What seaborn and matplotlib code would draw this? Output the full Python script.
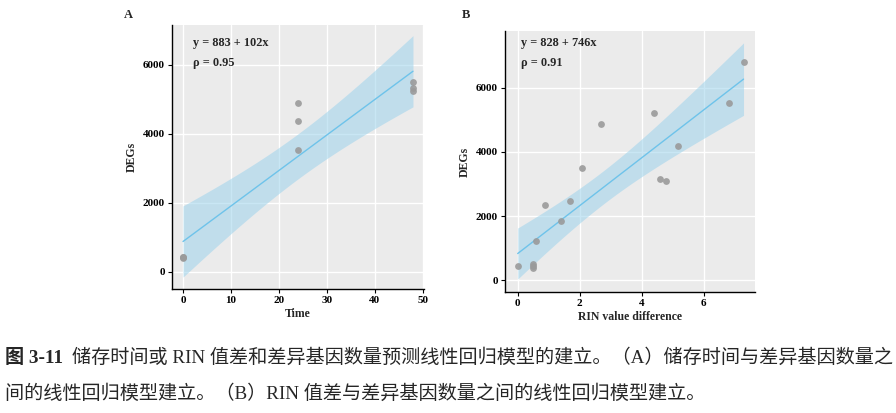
import numpy as np
import pandas as pd
import seaborn as sns
import matplotlib.pyplot as plt

# Panel A: storage time vs DEGs
time_h = [0, 0, 0, 24, 24, 24, 48, 48, 48]
degs_a = [390, 420, 440, 3530, 4360, 4900, 5230, 5320, 5500]

# Panel B: RIN value difference vs DEGs
rin_diff = [0, 0.48, 0.48, 0.48, 0.58, 0.88, 1.39, 1.69, 2.09, 2.69,
            4.40, 4.59, 4.80, 5.19, 6.81, 7.29]
degs_b = [436, 520, 450, 384, 1226, 2358, 1850, 2462, 3512, 4883,
          5216, 3148, 3086, 4187, 5527, 6795]

eq_a = ["y = 883 + 102x", "ρ = 0.95"]
eq_b = ["y = 828 + 746x", "ρ = 0.91"]

caption_head = "图 3-11"
caption1 = "储存时间或 RIN 值差和差异基因数量预测线性回归模型的建立。（A）储存时间与差异基因数量之"
caption2 = "间的线性回归模型建立。（B）RIN 值差与差异基因数量之间的线性回归模型建立。"

# t quantile (0.975) for n-2 degrees of freedom, like geom_smooth(method="lm")
t975 = {7: 2.365, 14: 2.145}

df_a = pd.DataFrame({"Time": time_h, "DEGs": degs_a})
df_b = pd.DataFrame({"RIN value difference": rin_diff, "DEGs": degs_b})

sns.set_theme(style="darkgrid", rc={
    "axes.facecolor": "#EBEBEB",
    "grid.color": "white",
    "grid.linewidth": 1.0,
    "axes.edgecolor": "black",
    "xtick.bottom": True,
    "ytick.left": True,
    "xtick.major.size": 3,
    "ytick.major.size": 3,
    "xtick.major.width": 0.8,
    "ytick.major.width": 0.8,
})
plt.rcParams["font.family"] = ["Liberation Serif", "Noto Sans CJK SC"]
plt.rcParams["font.weight"] = "bold"

fig = plt.figure(figsize=(8.96, 4.13), dpi=100)
W, H = 896, 413

def box(l, t, r, b):
    return [l / W, 1 - b / H, (r - l) / W, (b - t) / H]

ax_a = fig.add_axes(box(172, 25, 424, 289))
ax_b = fig.add_axes(box(505, 31, 755, 292))

panels = [
    (ax_a, df_a, "Time", eq_a, (-2.3, 50.3), (-500, 7150), [0, 10, 20, 30, 40, 50], 193),
    (ax_b, df_b, "RIN value difference", eq_b, (-0.41, 7.66), (-364, 7770), [0, 2, 4, 6], 521),
]

for ax, df, xcol, eq, xlim, ylim, xticks, tx in panels:
    x = df[xcol].to_numpy(float)
    y = df["DEGs"].to_numpy(float)
    n = len(x)
    b1, b0 = np.polyfit(x, y, 1)
    resid = y - (b0 + b1 * x)
    s = np.sqrt((resid ** 2).sum() / (n - 2))
    grid = np.linspace(x.min(), x.max(), 100)
    se = s * np.sqrt(1 / n + (grid - x.mean()) ** 2 / ((x - x.mean()) ** 2).sum())
    fit = b0 + b1 * grid
    ax.fill_between(grid, fit - t975[n - 2] * se, fit + t975[n - 2] * se,
                    color="#9DD3EC", alpha=0.55, linewidth=0, zorder=1)
    sns.regplot(data=df, x=xcol, y="DEGs", ax=ax, ci=None,
                scatter_kws=dict(color="#9A9A9A", s=24, alpha=0.9, linewidths=0, zorder=3),
                line_kws=dict(color="#6EC3EA", linewidth=1.0, zorder=2))
    ax.set_xlim(*xlim)
    ax.set_ylim(*ylim)
    ax.set_xticks(xticks)
    ax.set_yticks([0, 2000, 4000, 6000])
    ax.grid(True, which="major")
    for sp in ["top", "right"]:
        ax.spines[sp].set_visible(False)
    for sp in ["left", "bottom"]:
        ax.spines[sp].set_color("black")
        ax.spines[sp].set_linewidth(1.0)
    ax.tick_params(axis="both", labelsize=8, pad=2, colors="black", length=3)
    ax.set_xlabel(xcol, fontsize=8.5, fontweight="bold", labelpad=2)
    ax.set_ylabel("DEGs", fontsize=8.5, fontweight="bold", labelpad=4)
    fig.text(tx / W, 1 - 43 / H, eq[0], fontsize=8.8, fontweight="bold", va="center")
    fig.text(tx / W, 1 - 63 / H, eq[1], fontsize=8.8, fontweight="bold", va="center")

fig.text(124 / W, 1 - 15 / H, "A", fontsize=9, fontweight="bold", va="center")
fig.text(462 / W, 1 - 15 / H, "B", fontsize=9, fontweight="bold", va="center")

fig.text(5 / W, 1 - 358 / H, caption_head, fontsize=13.8, fontweight="bold", va="center")
fig.text(72 / W, 1 - 358 / H, caption1, fontsize=13.8, fontweight="normal", va="center")
fig.text(5 / W, 1 - 394 / H, caption2, fontsize=13.8, fontweight="normal", va="center")

fig.savefig("out.png", dpi=100)
